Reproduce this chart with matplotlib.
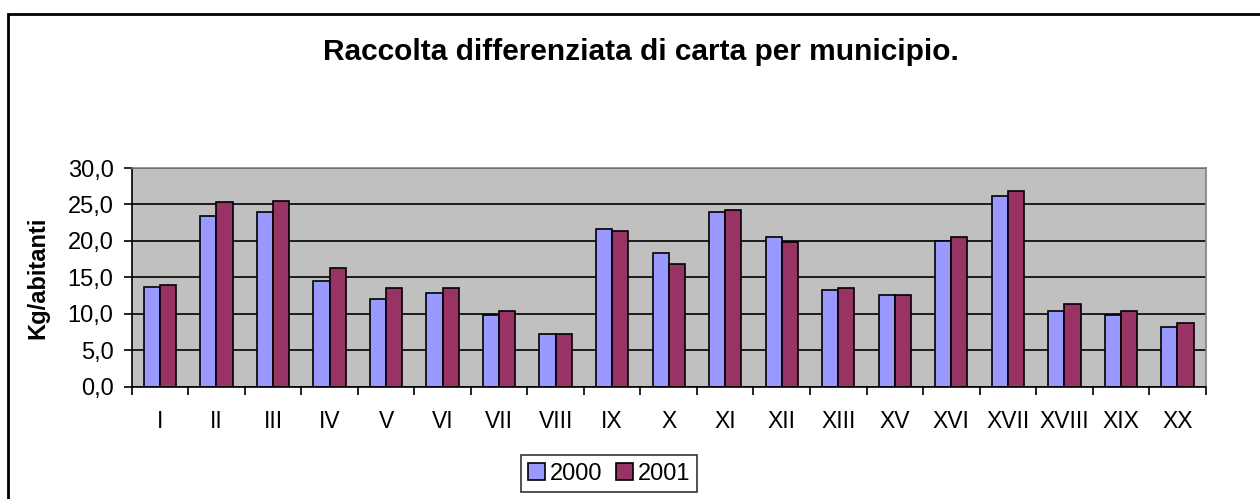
import matplotlib
matplotlib.use('Agg')
import matplotlib.pyplot as plt
import numpy as np
from matplotlib.patches import Rectangle

# Data
municipi = ['I', 'II', 'III', 'IV', 'V', 'VI', 'VII', 'VIII', 'IX', 'X',
            'XI', 'XII', 'XIII', 'XV', 'XVI', 'XVII', 'XVIII', 'XIX', 'XX']
y2000 = [13.7, 23.4, 23.9, 14.5, 12.1, 12.9, 9.9, 7.2, 21.7, 18.4,
         23.9, 20.6, 13.2, 12.6, 20.0, 26.1, 10.4, 9.9, 8.2]
y2001 = [14.0, 25.3, 25.5, 16.3, 13.5, 13.5, 10.4, 7.2, 21.4, 16.8,
         24.2, 19.8, 13.5, 12.6, 20.6, 26.9, 11.3, 10.4, 8.8]

plt.rcParams['font.family'] = ['Liberation Sans', 'DejaVu Sans']

fig = plt.figure(figsize=(12.6, 4.99), dpi=100)
ax = fig.add_axes([0.1045, 0.225, 0.8524, 0.4383])
ax.set_facecolor('#C0C0C0')

x = np.arange(len(municipi))
bar_width = 1 / 3.5
ax.bar(x - bar_width / 2, y2000, width=bar_width, color='#9999FF',
       edgecolor='black', linewidth=1.2, label='2000', zorder=3)
ax.bar(x + bar_width / 2, y2001, width=bar_width, color='#993366',
       edgecolor='black', linewidth=1.2, label='2001', zorder=3)

ax.set_xlim(-0.5, len(municipi) - 0.5)
ax.set_ylim(0, 30)

# y axis
ax.set_yticks(np.arange(0, 31, 5))
ax.set_yticklabels([f'{v:.1f}'.replace('.', ',') for v in np.arange(0, 31, 5)])
ax.tick_params(axis='y', direction='out', length=6, width=1.2, pad=7,
               labelsize=17, color='black')
ax.grid(axis='y', color='black', linewidth=1.2, zorder=1)

# x axis: labels at centers, tick marks between categories
ax.set_xticks(x)
ax.set_xticklabels(municipi)
ax.tick_params(axis='x', which='major', length=0, pad=16.5, labelsize=16.5)
ax.set_xticks(np.arange(-0.5, len(municipi), 1), minor=True)
ax.tick_params(axis='x', which='minor', direction='out', length=6, width=1.2,
               color='black')

ax.spines['left'].set_color('black')
ax.spines['left'].set_linewidth(1.2)
ax.spines['bottom'].set_color('black')
ax.spines['bottom'].set_linewidth(1.2)
ax.spines['top'].set_color('#808080')
ax.spines['right'].set_color('#808080')
ax.spines['top'].set_linewidth(1.2)
ax.spines['right'].set_linewidth(1.2)
for s in ax.spines.values():
    s.set_zorder(4)

ax.set_ylabel('Kg/abitanti', fontsize=17, fontweight='bold')
ax.yaxis.set_label_coords(-0.077, 0.5)

fig.text(0.509, 0.895, 'Raccolta differenziata di carta per municipio.',
         ha='center', va='center', fontsize=21.5, fontweight='bold')

leg = fig.legend(loc='center', bbox_to_anchor=(0.4835, 0.051), ncol=2,
                 fontsize=17, frameon=True, fancybox=False, edgecolor='black',
                 handlelength=0.7, handleheight=0.7, handletextpad=0.2,
                 columnspacing=0.6, borderpad=0.3, borderaxespad=0)
leg.get_frame().set_linewidth(1.2)

# outer chart border
fig.patches.append(Rectangle((0.0063, -0.2), 1.5, 1.172, transform=fig.transFigure,
                             fill=False, edgecolor='black', linewidth=2))

fig.savefig('out.png', dpi=100)
